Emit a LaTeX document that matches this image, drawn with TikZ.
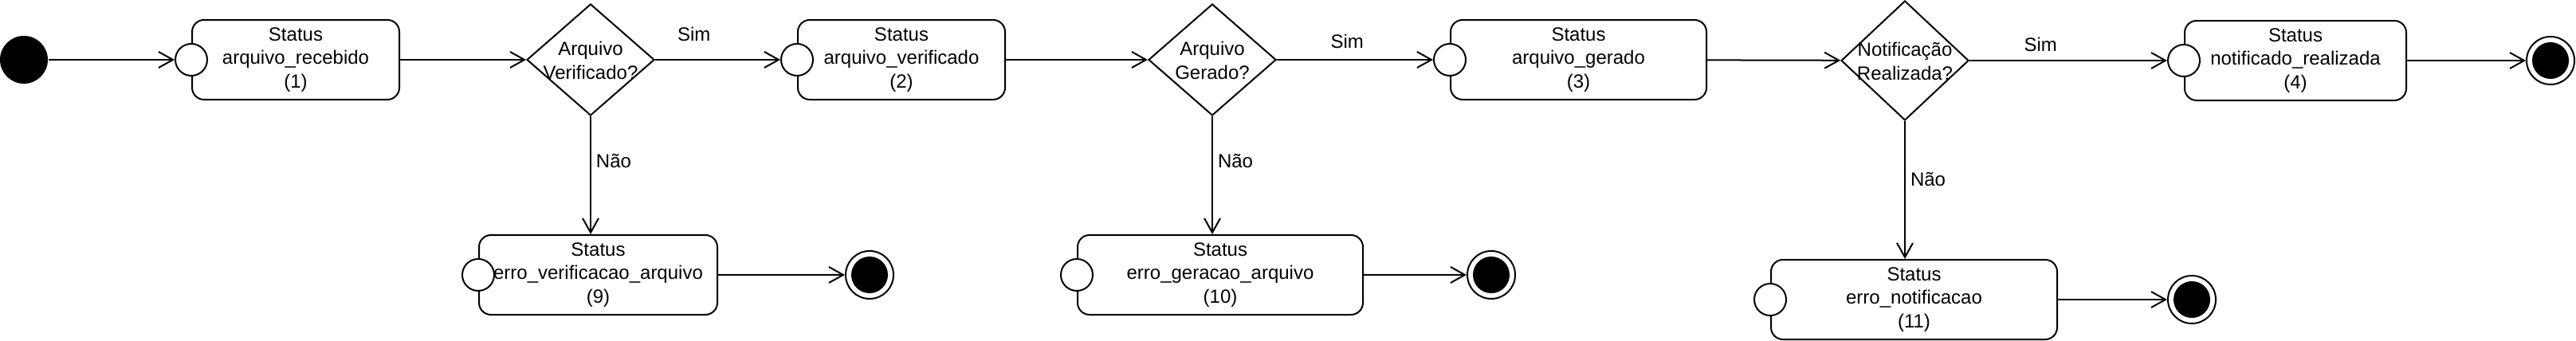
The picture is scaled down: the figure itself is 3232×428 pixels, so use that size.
\documentclass[tikz,border=0pt]{standalone}
\usepackage{fontspec}
\setmainfont{Liberation Sans}
\usetikzlibrary{shapes.geometric,arrows.meta}
\begin{document}
\begin{tikzpicture}[x=0.5pt,y=-0.5pt,line width=1pt,
  every node/.style={font=\fontsize{12}{14.75}\selectfont,align=center},
  estado/.style={draw,rounded corners=7.5pt,minimum height=50pt,inner sep=0pt},
  porta/.style={draw,fill=white,circle,minimum size=20pt,inner sep=0pt},
  decisao/.style={draw,diamond,minimum width=80pt,minimum height=70pt,inner sep=0pt},
  inicio/.style={circle,fill=black,minimum size=30pt,inner sep=0pt},
  fim/.style={circle,draw,minimum size=30pt,inner sep=0pt,
    path picture={\fill (path picture bounding box.center) circle (11.5pt);}},
  fluxo/.style={-{Straight Barb[length=9pt,width=10pt]}}]
\useasboundingbox (0,0) rectangle (3232,428);
\node[inicio] (ini) at (30,75) {};
\node[estado,minimum width=130pt] (s1) at (371,75) {Status\\arquivo\_recebido\\(1)};
\node[porta] (p1) at (s1.west) {};
\node[decisao] (d1) at (741,75) {};
\node (t1) at (741,76) {Arquivo\\Verificado?};
\node[estado,minimum width=130pt] (s2) at (1131,75) {Status\\arquivo\_verificado\\(2)};
\node[porta] (p2) at (s2.west) {};
\node[decisao] (d2) at (1521,75) {};
\node (t2) at (1521,76) {Arquivo\\Gerado?};
\node[estado,minimum width=160.5pt] (s3) at (1980.5,75) {Status\\arquivo\_gerado\\(3)};
\node[porta] (p3) at (s3.west) {};
\node[decisao,minimum height=75pt] (d3) at (2390,76) {};
\node (t3) at (2390,77) {Notificação\\Realizada?};
\node[estado,minimum width=139pt] (s4) at (2880,76) {Status\\notificado\_realizada\\(4)};
\node[porta] (p4) at (s4.west) {};
\node[fim] (e4) at (3200,76) {};
\node[estado,minimum width=149.5pt] (s9) at (750.5,345) {Status\\erro\_verificacao\_arquivo\\(9)};
\node[porta] (p9) at (s9.west) {};
\node[fim] (e9) at (1091,345) {};
\node[estado,minimum width=179pt] (s10) at (1531,345) {Status\\erro\_geracao\_arquivo\\(10)};
\node[porta] (p10) at (s10.west) {};
\node[fim] (e10) at (1871,345) {};
\node[estado,minimum width=179.5pt] (s11) at (2401.5,376) {Status\\erro\_notificacao\\(11)};
\node[porta] (p11) at (s11.west) {};
\node[fim] (e11) at (2750,376) {};
\draw[fluxo] (ini) -- (p1);
\draw[fluxo] (s1) -- (d1);
\draw[fluxo] (d1) -- node[pos=.31,yshift=16pt] (sim1) {Sim} (p2);
\draw[fluxo] (d1) -- node[pos=.38,xshift=14.5pt] (nao1) {Não} (d1.south |- s9.north);
\draw[fluxo] (s2) -- (d2);
\draw[fluxo] (d2) -- node[pos=.45,yshift=11.5pt] (sim2) {Sim} (p3);
\draw[fluxo] (d2) -- node[pos=.38,xshift=14.5pt] (nao2) {Não} (d2.south |- s10.north);
\draw[fluxo] (s3) -- (d3);
\draw[fluxo] (d3) -- node[pos=.36,yshift=10pt] (sim3) {Sim} (p4);
\draw[fluxo] (d3) -- node[pos=.42,xshift=14.5pt] (nao3) {Não} (d3.south |- s11.north);
\draw[fluxo] (s4) -- (e4);
\draw[fluxo] (s9) -- (e9);
\draw[fluxo] (s10) -- (e10);
\draw[fluxo] (s11) -- (e11);
\end{tikzpicture}
\end{document}
